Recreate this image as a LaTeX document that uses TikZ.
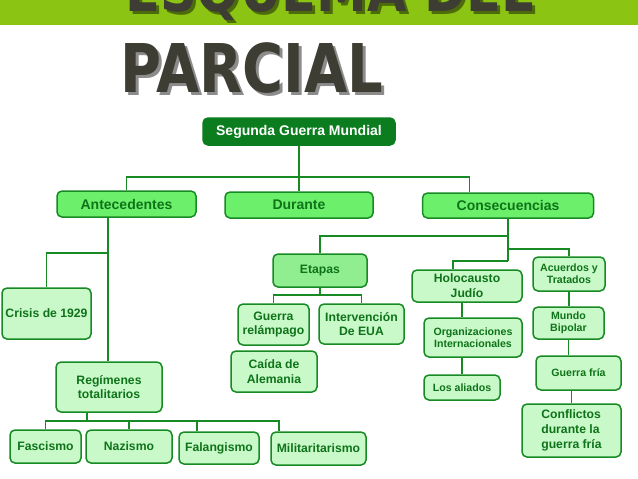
\documentclass[tikz,border=0pt]{standalone}
\usepackage{fontspec}
\setmainfont{Liberation Sans}
\newfontfamily\titlefont{DejaVu Sans}
\usepackage{tikz}
\definecolor{bargreen}{HTML}{8CC414}
\definecolor{titlegray}{HTML}{3D3D33}
\definecolor{rootgreen}{HTML}{0B7D1E}
\definecolor{edgegreen}{HTML}{178A24}
\definecolor{textgreen}{HTML}{0E7319}
\definecolor{maingreen}{HTML}{6CF06C}
\definecolor{stagegreen}{HTML}{90EE90}
\definecolor{subgreen}{HTML}{C9F9C9}

\begin{document}
\begin{tikzpicture}[
    x=1pt, y=-1pt,
    every node/.style={font=\bfseries, inner sep=0pt},
    box/.style={rectangle, rounded corners=5pt, draw=edgegreen, line width=1.5pt, text=textgreen, align=center},
    rootbox/.style={box, fill=rootgreen, draw=rootgreen, text=white, font=\bfseries\fontsize{14}{16}\selectfont},
    mainbox/.style={box, fill=maingreen, font=\bfseries\fontsize{14}{16}\selectfont},
    stagebox/.style={box, fill=stagegreen, font=\bfseries\fontsize{12.2}{14.6}\selectfont},
    subbox/.style={box, fill=subgreen, font=\bfseries\fontsize{12.2}{14.8}\selectfont},
    smallbox/.style={box, fill=subgreen, font=\bfseries\fontsize{10.6}{12.2}\selectfont},
    link/.style={draw=edgegreen, line width=1.6pt},
    titletext/.style={font=\titlefont\bfseries\fontsize{#1}{#1}\selectfont, text=titlegray, anchor=base west}
]
\useasboundingbox (0,0) rectangle (638,479);
\clip (0,0) rectangle (638,479);

% title
\fill[bargreen] (0,0) rectangle (638,25);
\node[titletext=51, text=black, opacity=0.45] (topshadow) at (128,15) {\scalebox{1}[1.2]{ESQUEMA DEL}};
\node[titletext=51] (toptitle) at (125,12) {\scalebox{1}[1.2]{ESQUEMA DEL}};
\node[titletext=56, text=black, opacity=0.45] (subshadow) at (123,95) {\scalebox{1}[1.2]{PARCIAL}};
\node[titletext=56] (subtitle) at (120,92) {\scalebox{1}[1.2]{PARCIAL}};

% boxes
\node[rootbox, minimum width=192pt, minimum height=27pt] (root) at (299,131.5) {Segunda Guerra Mundial};

\node[mainbox, minimum width=139pt, minimum height=26pt] (ante) at (126.5,204) {Antecedentes};
\node[mainbox, minimum width=148pt, minimum height=26pt] (dur) at (299,205) {Durante};
\node[mainbox, minimum width=171pt, minimum height=25pt] (cons) at (508,205.5) {Consecuencias};

\node[subbox, minimum width=89pt, minimum height=51pt] (crisis) at (46.5,313.5) {Crisis de 1929};
\node[subbox, minimum width=106pt, minimum height=50pt] (regim) at (109,387) {Regímenes\\totalitarios};
\node[subbox, minimum width=71pt, minimum height=33pt] (fasc) at (45.5,446.5) {Fascismo};
\node[subbox, minimum width=86pt, minimum height=33pt] (naz) at (129,446.5) {Nazismo};
\node[subbox, minimum width=80pt, minimum height=32pt] (falan) at (219,448) {Falangismo};
\node[subbox, minimum width=95pt, minimum height=33pt] (milit) at (318.5,448.5) {Militaritarismo};

\node[stagebox, minimum width=94pt, minimum height=33pt] (etapas) at (320,270.5) {Etapas};
\node[subbox, minimum width=71pt, minimum height=41pt] (guerra) at (273.5,324.5) {Guerra\\relámpago};
\node[subbox, minimum width=85pt, minimum height=40pt] (interv) at (361.5,324) {Intervención\\De EUA};
\node[subbox, minimum width=86pt, minimum height=41pt] (caida) at (274,371.5) {Caída de\\Alemania};

\node[subbox, minimum width=110pt, minimum height=32pt] (holo) at (467,286) {Holocausto\\Judío};
\node[smallbox, minimum width=98pt, minimum height=39pt] (orga) at (473,337.5) {Organizaciones\\Internacionales};
\node[smallbox, minimum width=76pt, minimum height=25pt] (aliad) at (462,387.5) {Los aliados};

\node[smallbox, minimum width=72pt, minimum height=34pt] (acuer) at (569,274) {Acuerdos y\\Tratados};
\node[smallbox, minimum width=71pt, minimum height=32pt] (mundo) at (568.5,323) {Mundo\\Bipolar};
\node[smallbox, minimum width=85pt, minimum height=34pt] (gfria) at (578.5,373) {Guerra fría};
\node[subbox, align=left, minimum width=99pt, minimum height=53pt] (confl) at (571.5,430.5) {Conflictos\\durante la\\guerra fría};

% connectors
\coordinate (topbus) at (299,177);
\coordinate (antebus) at (108,253);
\coordinate (regbus) at (87,421);
\coordinate (etjoin) at (508,236);
\coordinate (acjoin) at (508,249);
\coordinate (consbus) at (508,261);
\coordinate (etbus) at (320,295);

\draw[link] (root) -- (dur);
\draw[link] (ante.north) |- (topbus) -| ([xshift=-38.5pt]cons.north);

\draw[link] (ante.south -| antebus) -- (regim.north -| antebus);
\draw[link] (crisis.north) |- (antebus);
\draw[link] (regim.south -| regbus) -- (regbus);
\draw[link] (fasc.north) |- (regbus) -| ([xshift=-39.5pt]milit.north);
\draw[link] (naz.north) -- (naz.north |- regbus);
\draw[link] ([xshift=-22pt]falan.north) -- ([xshift=-22pt]falan.north |- regbus);

\draw[link] (cons.south) -- (consbus);
\draw[link] (etapas.north) |- (etjoin);
\draw[link] (acuer.north) |- (acjoin);
\draw[link] ([xshift=-14pt]holo.north) |- (consbus);
\draw[link] (etapas.south) -- (etbus);
\draw[link] (guerra.north) |- (etbus) -| (interv.north);

\draw[link] (holo.south -| aliad) -- (orga.north -| aliad);
\draw[link] (orga.south -| aliad) -- (aliad);
\draw[link] (acuer.south) -- (acuer.south |- mundo.north);
\draw[link] (mundo.south) -- (mundo.south |- gfria.north);
\draw[link] (gfria.south -| confl) -- (confl.north);
\end{tikzpicture}
\end{document}
